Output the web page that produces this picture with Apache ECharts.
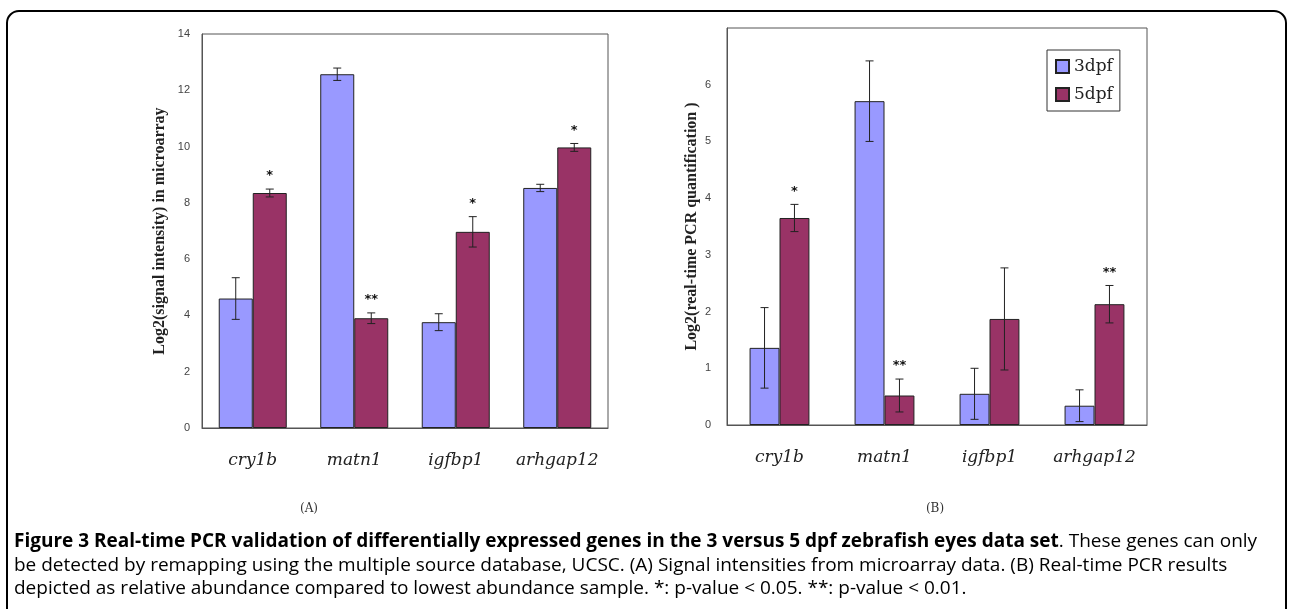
<!DOCTYPE html>
<html>
<head>
<meta charset="utf-8">
<script src="https://cdn.jsdelivr.net/npm/echarts@6/dist/echarts.min.js"></script>
<style>
html,body{margin:0;padding:0;background:#fff;}
#chart{width:1290px;height:609px;}
</style>
</head>
<body>
<div id="chart"></div>
<script>
const categories = ['cry1b', 'matn1', 'igfbp1', 'arhgap12'];
const seriesNames = ['3dpf', '5dpf'];
// (A) microarray
const microarray3 = [4.6, 12.57, 3.76, 8.53];
const microarray3Err = [0.74, 0.22, 0.3, 0.13];
const microarray5 = [8.35, 3.9, 6.97, 9.97];
const microarray5Err = [0.14, 0.19, 0.54, 0.14];
const microarraySig5 = ['*', '**', '*', '*'];
// (B) real-time PCR
const pcr3 = [1.36, 5.71, 0.55, 0.34];
const pcr3Err = [0.71, 0.71, 0.45, 0.28];
const pcr5 = [3.65, 0.52, 1.87, 2.13];
const pcr5Err = [0.24, 0.29, 0.9, 0.33];
const pcrSig5 = ['*', '**', '', '**'];

const leftTicks = {min: 0, max: 14, interval: 2};
const rightTicks = {min: 0, max: 7, interval: 1};

const BLUE = '#9999FF', RED = '#993366';
const LEFT_GAP = 0.33, RIGHT_GAP = 0.43;

function errSeries(gridIdx, vals, errs, sigs, side, gap) {
  return {
    type: 'custom',
    xAxisIndex: gridIdx, yAxisIndex: gridIdx,
    silent: true, z: 5,
    data: vals.map((v, i) => [i, v, errs[i]]),
    renderItem: function (params, api) {
      const i = api.value(0), v = api.value(1), e = api.value(2);
      const sig = sigs ? sigs[i] : '';
      const c = api.coord([i, v]);
      const bw = api.size([1, 0])[0];
      const x = c[0] + side * bw * (1 - gap) / 4;
      const top = api.coord([i, v + e])[1];
      const bot = api.coord([i, v - e])[1];
      const st = {stroke: '#222', lineWidth: 1};
      const children = [
        {type: 'line', shape: {x1: x, y1: top, x2: x, y2: bot}, style: st},
        {type: 'line', shape: {x1: x - 4, y1: top, x2: x + 4, y2: top}, style: st},
        {type: 'line', shape: {x1: x - 4, y1: bot, x2: x + 4, y2: bot}, style: st}
      ];
      if (sig) {
        children.push({type: 'text', style: {text: sig, x: x, y: top - 13, textAlign: 'center', textVerticalAlign: 'middle', font: 'bold 13px "DejaVu Sans"', fill: '#111'}});
      }
      return {type: 'group', children: children};
    }
  };
}

function barSeries(gridIdx, name, vals, color, gap) {
  return {
    type: 'bar', name: name,
    xAxisIndex: gridIdx, yAxisIndex: gridIdx,
    data: vals, barGap: '0%', barCategoryGap: (gap * 100) + '%',
    itemStyle: {color: color, borderColor: '#222', borderWidth: 1},
    silent: true
  };
}

const catAxis = (gridIdx) => ({
  type: 'category', gridIndex: gridIdx, data: categories,
  axisLine: {lineStyle: {color: '#555'}},
  axisTick: {inside: true, length: 5, lineStyle: {color: '#555'}},
  axisLabel: {interval: 0, hideOverlap: false, margin: 24, fontFamily: '"DejaVu Serif"', fontStyle: 'italic', fontSize: 17, color: '#222'}
});

const valAxis = (gridIdx, t, name, gapName, margin) => ({
  type: 'value', gridIndex: gridIdx, min: t.min, max: t.max, interval: t.interval,
  name: name, nameLocation: 'middle', nameGap: gapName,
  nameTextStyle: {fontFamily: '"Liberation Serif"', fontWeight: 'bold', fontSize: 16, color: '#222'},
  axisLine: {show: true, lineStyle: {color: '#555'}},
  axisTick: {show: false},
  splitLine: {show: false},
  axisLabel: {margin: margin, fontFamily: '"Liberation Sans"', fontSize: 11, color: '#444', showMaxLabel: gridIdx === 0}
});

const chart = echarts.init(document.getElementById('chart'), null, {renderer: 'canvas'});
chart.setOption({
  animation: false,
  backgroundColor: '#fff',
  grid: [
    {left: 202, top: 34, width: 406, height: 394, show: true, borderColor: '#555', borderWidth: 1, backgroundColor: '#fff'},
    {left: 727, top: 28, width: 420, height: 397, show: true, borderColor: '#555', borderWidth: 1, backgroundColor: '#fff'}
  ],
  legend: {
    data: seriesNames, orient: 'vertical', left: 1047, top: 50,
    padding: [8, 7, 8, 8], itemGap: 11,
    itemWidth: 13, itemHeight: 13, icon: 'rect',
    backgroundColor: '#fff', borderColor: '#333', borderWidth: 1,
    textStyle: {fontFamily: '"DejaVu Serif"', fontSize: 17, color: '#222'},
    selectedMode: false
  },
  xAxis: [catAxis(0), catAxis(1)],
  yAxis: [
    valAxis(0, leftTicks, 'Log2(signal intensity) in microarray', 34, 12),
    valAxis(1, rightTicks, 'Log2(real-time PCR quantification )', 27, 16)
  ],
  series: [
    barSeries(0, seriesNames[0], microarray3, BLUE, LEFT_GAP),
    barSeries(0, seriesNames[1], microarray5, RED, LEFT_GAP),
    barSeries(1, seriesNames[0], pcr3, BLUE, RIGHT_GAP),
    barSeries(1, seriesNames[1], pcr5, RED, RIGHT_GAP),
    errSeries(0, microarray3, microarray3Err, null, -1, LEFT_GAP),
    errSeries(0, microarray5, microarray5Err, microarraySig5, 1, LEFT_GAP),
    errSeries(1, pcr3, pcr3Err, null, -1, RIGHT_GAP),
    errSeries(1, pcr5, pcr5Err, pcrSig5, 1, RIGHT_GAP)
  ],
  graphic: [
    {type: 'rect', shape: {x: 7, y: 11, width: 1279, height: 640, r: 12}, style: {fill: null, stroke: '#000', lineWidth: 2}, z: 100, silent: true},
    {type: 'text', x: 309, y: 509, style: {text: '(A)', font: '12px "DejaVu Serif"', fill: '#333', textAlign: 'center', textVerticalAlign: 'middle'}},
    {type: 'text', x: 935, y: 509, style: {text: '(B)', font: '12px "DejaVu Serif"', fill: '#333', textAlign: 'center', textVerticalAlign: 'middle'}},
    {type: 'text', x: 14, y: 542, style: {
      text: '{b|Figure 3 Real-time PCR validation of differentially expressed genes in the 3 versus 5 dpf zebrafish eyes data set}{r|. These genes can only}',
      textVerticalAlign: 'middle',
      rich: {
        b: {font: 'bold 19px "Open Sans"', fill: '#000'},
        r: {font: '19px "Open Sans"', fill: '#000'}
      }
    }},
    {type: 'text', x: 14, y: 566, style: {text: 'be detected by remapping using the multiple source database, UCSC. (A) Signal intensities from microarray data. (B) Real-time PCR results', font: '19px "Open Sans"', fill: '#000', textVerticalAlign: 'middle'}},
    {type: 'text', x: 14, y: 589, style: {text: 'depicted as relative abundance compared to lowest abundance sample. *: p-value < 0.05. **: p-value < 0.01.', font: '19px "Open Sans"', fill: '#000', textVerticalAlign: 'middle'}}
  ]
});
</script>
</body>
</html>
